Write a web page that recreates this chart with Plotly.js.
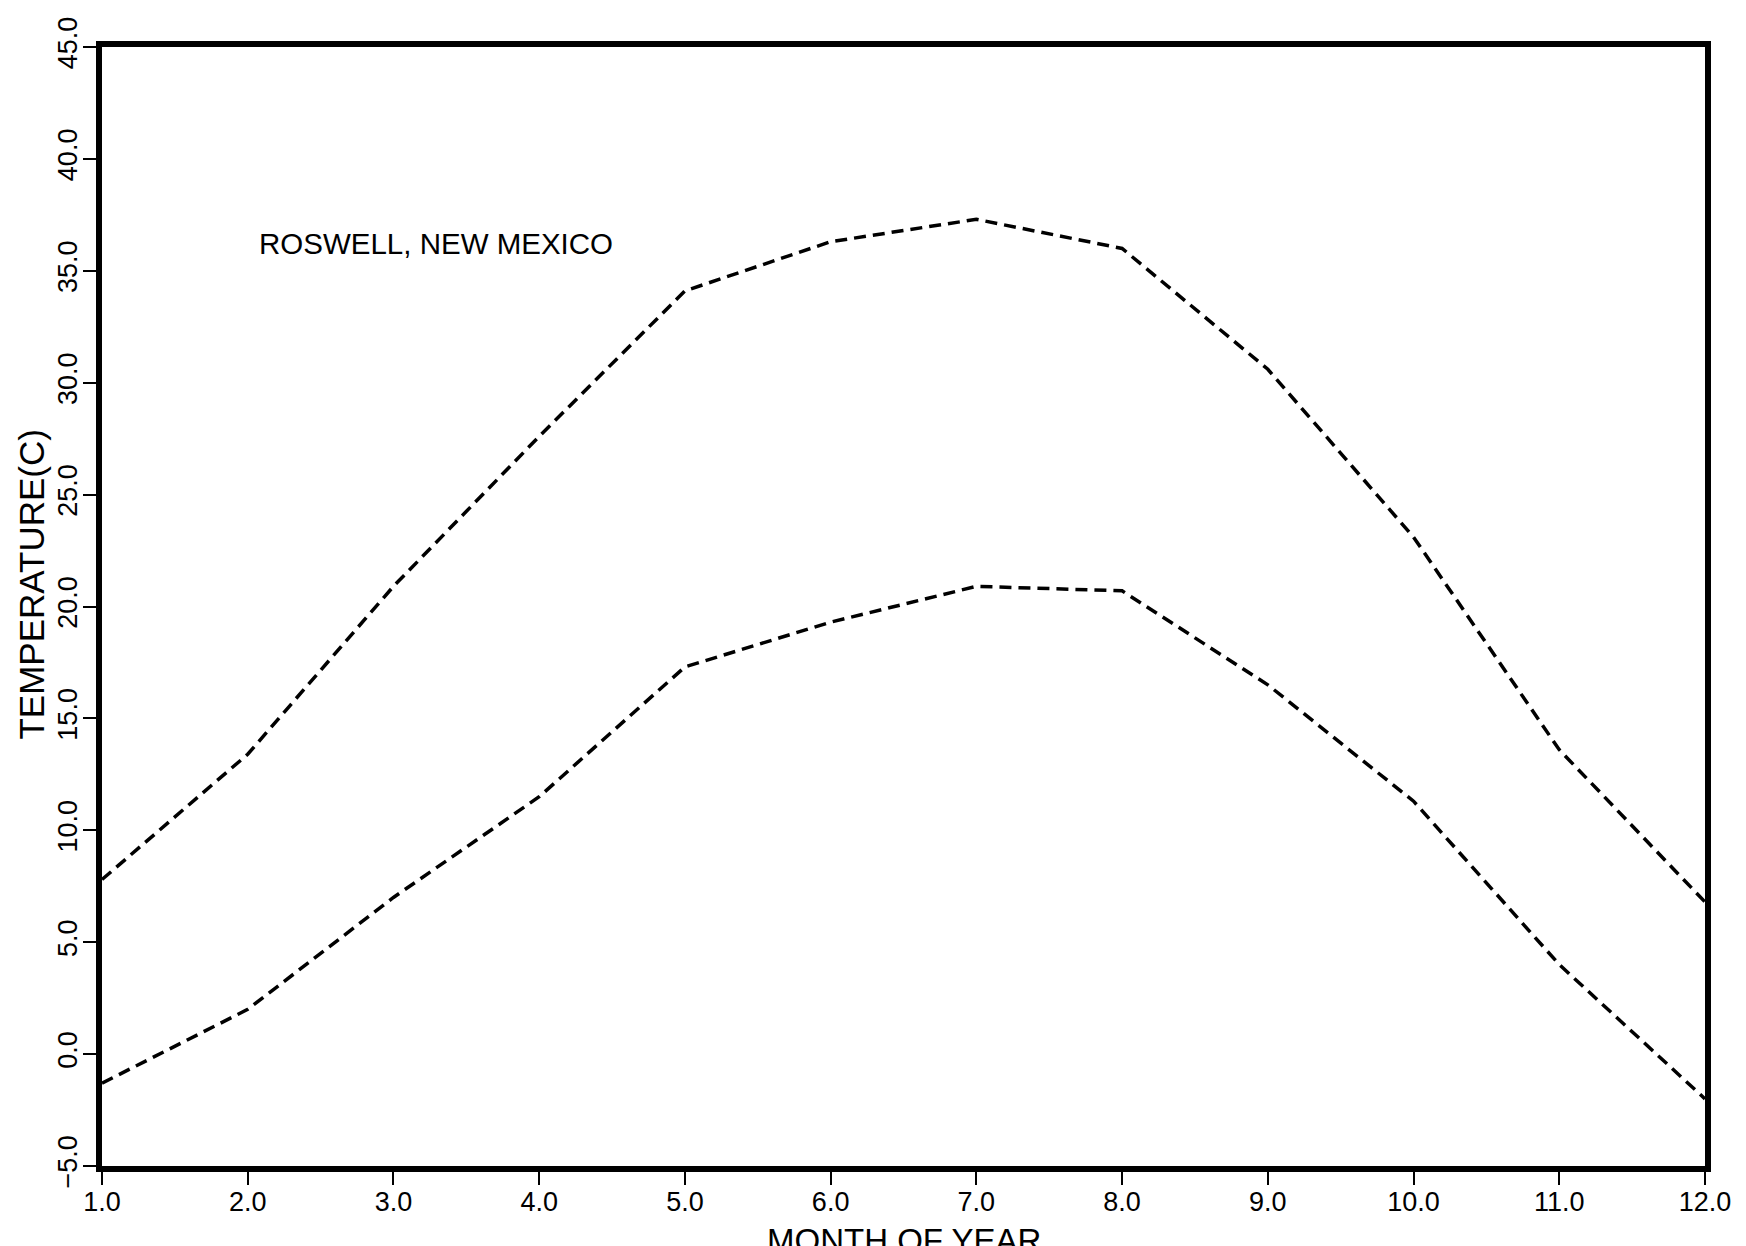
<!DOCTYPE html>
<html>
<head>
<meta charset="utf-8">
<script src="https://cdn.plot.ly/plotly-3.0.1.min.js"></script>
<style>
  html, body { margin: 0; padding: 0; background: #ffffff; }
  #chart { width: 1746px; height: 1246px; }
</style>
</head>
<body>
<div id="chart"></div>
<script>
// Month of year
const months = [1, 2, 3, 4, 5, 6, 7, 8, 9, 10, 11, 12];
// Mean daily maximum temperature (C)
const maxTemp = [7.8, 13.4, 20.9, 27.6, 34.1, 36.3, 37.3, 36.0, 30.6, 23.1, 13.6, 6.8];
// Mean daily minimum temperature (C)
const minTemp = [-1.3, 2.0, 7.0, 11.5, 17.3, 19.3, 20.9, 20.7, 16.5, 11.3, 4.0, -2.0];

const xTicks = [1, 2, 3, 4, 5, 6, 7, 8, 9, 10, 11, 12];
const yTicks = [-5, 0, 5, 10, 15, 20, 25, 30, 35, 40, 45];

const FONT = "Liberation Sans, Arial, sans-serif";

const lineStyle = { color: "#000000", width: 3.5, dash: "12px,7px" };

const traces = [
  { x: months, y: maxTemp, mode: "lines", line: lineStyle, hoverinfo: "skip", showlegend: false },
  { x: months, y: minTemp, mode: "lines", line: lineStyle, hoverinfo: "skip", showlegend: false }
];

const axisCommon = {
  showline: true,
  linecolor: "#000000",
  linewidth: 6,
  mirror: true,
  ticks: "outside",
  ticklen: 13,
  tickwidth: 2,
  tickcolor: "#000000",
  showgrid: false,
  zeroline: false,
  tickfont: { family: FONT, size: 27, color: "#000000" },
  tickformat: ".1f"
};

const layout = {
  width: 1746,
  height: 1246,
  paper_bgcolor: "#ffffff",
  plot_bgcolor: "#ffffff",
  margin: { l: 102, r: 41, t: 47, b: 80, pad: 0 },
  showlegend: false,
  xaxis: Object.assign({}, axisCommon, {
    range: [1, 12],
    tickvals: xTicks,
    ticklabelstandoff: -6,
    title: { text: "" }
  }),
  yaxis: Object.assign({}, axisCommon, {
    range: [-5, 45],
    tickvals: yTicks,
    tickangle: -90,
    ticklabelstandoff: -5,
    title: { text: "" }
  }),
  annotations: [
    {
      text: "ROSWELL, NEW MEXICO",
      xref: "paper", yref: "paper",
      x: 0.097, y: 0.824,
      xanchor: "left", yanchor: "middle",
      showarrow: false,
      font: { family: FONT, size: 29.5, color: "#000000" }
    },
    {
      text: "TEMPERATURE(C)",
      xref: "paper", yref: "paper",
      x: -0.044, y: 0.52,
      xanchor: "center", yanchor: "middle",
      textangle: -90,
      showarrow: false,
      font: { family: FONT, size: 35, color: "#000000" }
    },
    {
      text: "MONTH OF YEAR",
      xref: "paper", yref: "paper",
      x: 0.5, y: -0.048,
      xanchor: "center", yanchor: "top",
      showarrow: false,
      font: { family: FONT, size: 33, color: "#000000" }
    }
  ]
};

Plotly.newPlot("chart", traces, layout, { staticPlot: true, displayModeBar: false });
</script>
</body>
</html>
